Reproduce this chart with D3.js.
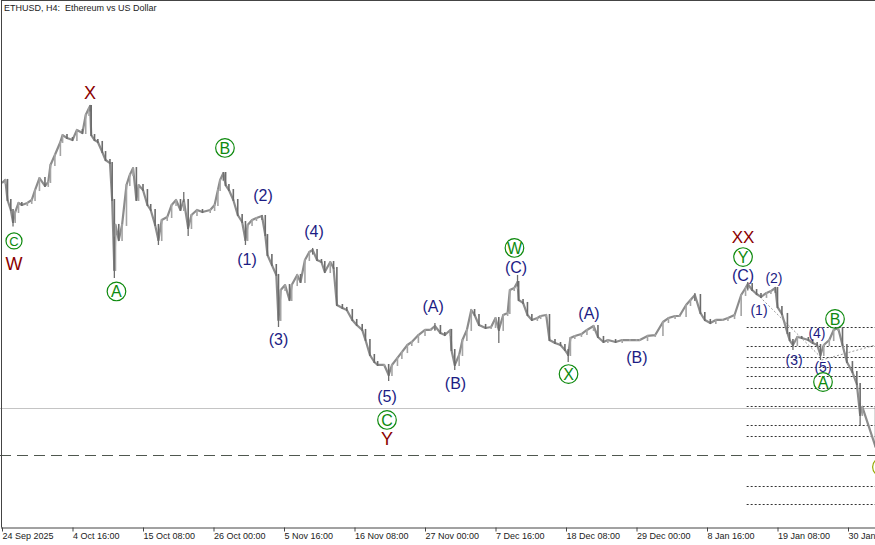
<!DOCTYPE html>
<html><head><meta charset="utf-8">
<script src="https://cdn.jsdelivr.net/npm/d3@7/dist/d3.min.js"></script>
<style>body{margin:0;background:#fff;} svg{display:block;}</style>
</head><body><svg id="c" width="875" height="545"></svg>
<script>
// ---- data (H4 bar index since 24 Sep 2025 00:00 UTC, price in USD) ----
const barIdx = [0,3,5,8,10,12,15,18,23,27,30,34,39,42,44,48,53,55,59,64,68,73,76,79,80,81,84,87,91,94,98,100,102,103,106,109,113,116,119,122,124,128,132,135,139,142,145,150,154,158,162,165,169,172,177,182,189,193,196,198,201,203,206,210,214,218,221,223,227,231,236,239,241,245,249,251,253,257,261,263,268,271,275,279,282,286,290,293,298,301,304,309,313,318,322,327,330,334,338,341,347,351,354,359,363,368,372,378,384,389,393,398,402,407,408,411,415,418,422,426,429,433,439,444,448,451,455,459,461,465,468,469,473,477,481,486,489,494,497,502,507,511,514,516,520,526,531,537,541,546,550,557,563,570,576,579,586,593,600,605,611,615,621,625,629,634,638,643,648,654,659,665,671,675,677,681,685,689,694,698,702,704,708,713,715,718,722,726,732,736,740,743,746,751,755,759,763,767,772,776,779,781,793];
const closePrice = [4140,4164,4007,3929,3835,3913,3984,3968,3984,4007,4085,4179,4117,4148,4281,4359,4461,4515,4492,4476,4555,4531,4672,4727,4742,4515,4476,4461,4382,4320,4296,4007,3460,3812,3694,3812,4124,4203,4257,4007,4124,4085,3968,3929,3812,3694,3851,3874,3968,4007,3929,4007,3788,3890,3929,3913,3929,3968,4085,4163,4218,4124,4085,4007,3890,3835,3694,3812,3851,3866,3882,3733,3577,3499,3421,3069,3303,3342,3225,3342,3421,3366,3538,3600,3616,3538,3522,3444,3522,3475,3186,3163,3147,3069,3030,2991,2912,2795,2740,2717,2717,2639,2717,2772,2818,2873,2897,2951,2991,2991,3022,2967,2951,2991,2834,2717,2795,2912,2991,3147,3108,3030,3006,3014,3084,2991,3108,3124,3303,3319,3366,3225,3202,3108,3069,3084,3100,3108,2912,2889,2873,2834,2795,2928,2944,2959,2991,3022,2936,2897,2912,2897,2912,2912,2912,2912,2944,2951,3053,3084,3100,3100,3186,3225,3264,3124,3069,3045,3069,3069,3084,3108,3264,3319,3350,3303,3272,3249,3280,3295,3319,3170,3116,2967,2912,2873,2936,2928,2912,2889,2873,2795,2873,2912,2991,3006,2873,2740,2662,2568,2326,2389,2076];
const wickIdx  = [10,80,102,142,165,169,201,221,236,251,282,351,393,411,451,468,514,629,677,702,718,743,779];
const wickLow  = [3800,4700,3397,3655,3990,3726,4160,3655,3850,3014,3580,2592,2990,2678,2889,3330,2740,3220,3300,3280,2834,2756,2248];
const wickHigh = [3870,4750,3720,3720,4070,3820,4226,3720,3890,3120,3632,2660,3045,2740,3010,3421,2830,3280,3366,3327,2900,2830,2420];

const tickIdx    = [0,64,128,192,256,320,384,448,512,576,640,704,768];
const tickLabels = ["24 Sep 2025","4 Oct 16:00","15 Oct 08:00","26 Oct 00:00","5 Nov 16:00","16 Nov 08:00","27 Nov 00:00","7 Dec 16:00","18 Dec 08:00","29 Dec 00:00","8 Jan 16:00","19 Jan 08:00","30 Jan 00:00"];

const fibLevels   = [3014,2865,2779,2701,2631,2537,2396,2248,2162,1771,1630];
const fibStartIdx = 676;
const bidPrice    = 2381;
const dashedPrice = 2013;
const channelStartIdx = [688,744];
const channelStartPx  = [3249,2756];
const channelEndIdx   = [744,793];
const channelEndPx    = [2772,2873];

// wave labels: p = navy parenthesised, ps = small navy, r = red, g = green circle, gs = small green circle, o = olive circle, rp = faint red
const labelText = ["C","W","X","A","B","(1)","(2)","(3)","(4)","(5)","C","Y","(A)","(B)","W","(C)","X","(A)","(B)","XX","Y","(C)","(1)","(2)","(3)","(4)","(5)","A","B","C","Y"];
const labelType = ["gs","r","r","g","g","p","p","p","p","p","g","r","p","p","g","p","g","p","p","r","g","p","ps","ps","ps","ps","ps","g","g","o","rp"];
const labelIdx  = [10.9,10.9,79.9,103.9,202.4,222.4,236.9,251,283.2,349.5,349.5,349.5,391.3,411.7,465.2,466.6,514.3,532.9,576.4,672.7,672.7,672.7,687.2,700.8,719,739.8,745.3,745.3,756.2,798.8,796.5];
const labelPx   = [3687,3507,4844,3292,4414,3538,4046,2920,3757,2467,2287,2138,3178,2576,3632,3483,2646,3123,2772,3710,3561,3413,3147,3397,2756,2967,2701,2584,3077,1919,1606];

// ---- scales ----
const H4 = 4*3600*1000;
const t0 = Date.UTC(2025,8,24,0,0);
const toDate = i => new Date(t0 + i*H4);
const W = 875, H = 545, axisY = 527.5;
const x = d3.scaleUtc().domain([toDate(0), toDate(792.5)]).range([2, 875]);
const y = d3.scaleLinear().domain([1450, 5571]).range([527, 0]);

const svg = d3.select("#c");
const font = "'Liberation Sans', Arial, sans-serif";

// horizontal reference lines
svg.append("line").attr("x1",0).attr("x2",W).attr("y1",Math.round(y(bidPrice))+0.5).attr("y2",Math.round(y(bidPrice))+0.5)
  .attr("stroke","#c4c4c4").attr("stroke-width",1);
svg.append("line").attr("x1",0).attr("x2",W).attr("y1",Math.round(y(dashedPrice))+0.5).attr("y2",Math.round(y(dashedPrice))+0.5)
  .attr("stroke","#4f574f").attr("stroke-width",1).attr("stroke-dasharray","11,6");
svg.append("g").selectAll("line").data(fibLevels).join("line")
  .attr("x1", x(toDate(fibStartIdx))).attr("x2", W)
  .attr("y1", d=>Math.round(y(d))+0.5).attr("y2", d=>Math.round(y(d))+0.5)
  .attr("stroke","#333").attr("stroke-width",1).attr("stroke-dasharray","2,2");
// channel dotted lines
svg.append("g").selectAll("line").data(channelStartIdx).join("line")
  .attr("x1",(d,i)=>x(toDate(d))).attr("y1",(d,i)=>y(channelStartPx[i]))
  .attr("x2",(d,i)=>x(toDate(channelEndIdx[i]))).attr("y2",(d,i)=>y(channelEndPx[i]))
  .attr("stroke","#9a9a9a").attr("stroke-width",1).attr("stroke-dasharray","2,2");

// price
const pts = barIdx.map((b,i)=>({d:toDate(b), v:closePrice[i]}));
svg.append("path").datum(pts)
  .attr("d", d3.line().x(d=>x(d.d)).y(d=>y(d.v)))
  .attr("fill","none").attr("stroke","#8c8c8c").attr("stroke-width",2.2).attr("stroke-linejoin","round");
const segs = d3.pairs(pts);
svg.append("g").selectAll("line").data(segs).join("line")
  .attr("x1",d=>x(d[1].d)).attr("x2",d=>x(d[1].d))
  .attr("y1",d=>y(Math.max(d[0].v,d[1].v))-1).attr("y2",d=>y(Math.min(d[0].v,d[1].v))+1)
  .attr("stroke",d=>d[1].v>=d[0].v ? "#a4a4a4" : "#6c6c6c").attr("stroke-width",1.6);
svg.append("g").selectAll("line").data(wickIdx).join("line")
  .attr("x1",d=>x(toDate(d))).attr("x2",d=>x(toDate(d)))
  .attr("y1",(d,i)=>y(wickLow[i])).attr("y2",(d,i)=>y(wickHigh[i]))
  .attr("stroke","#6e6e6e").attr("stroke-width",1.3);

// wave labels
const lab = svg.append("g");
labelText.forEach((t,i)=>{
  const cx = x(toDate(labelIdx[i])), cy = y(labelPx[i]), k = labelType[i];
  if (k==="g"||k==="gs"||k==="o"){
    const col = k==="o" ? "#93a800" : "#0e8a0e";
    const r = k==="gs" ? 8 : 9.3;
    lab.append("circle").attr("cx",cx).attr("cy",cy).attr("r",r).attr("fill","none").attr("stroke",col).attr("stroke-width",1.2);
    lab.append("text").attr("x",cx).attr("y",cy+0.5).attr("text-anchor","middle").attr("dominant-baseline","central")
      .attr("font-family",font).attr("font-size",k==="gs"?13:16).attr("fill",col).text(t);
  } else {
    const col = k==="r" ? "#8b0000" : (k==="rp" ? "#d88a9a" : "#1c1c84");
    const fs = k==="r" ? (t==="XX"?17:18) : (k==="ps" ? 14 : (k==="rp"?14:16));
    lab.append("text").attr("x",cx).attr("y",cy).attr("text-anchor","middle").attr("dominant-baseline","central")
      .attr("font-family",font).attr("font-size",fs).attr("fill",col).text(t);
  }
});

// frame
svg.append("line").attr("x1",1.5).attr("x2",1.5).attr("y1",0).attr("y2",axisY).attr("stroke","#444");
svg.append("line").attr("x1",1).attr("x2",W).attr("y1",0.5).attr("y2",0.5).attr("stroke","#444");

// x axis
const ax = svg.append("g").attr("transform",`translate(0,${axisY})`)
  .call(d3.axisBottom(x).tickValues(tickIdx.map(toDate)).tickFormat((d,i)=>tickLabels[i]).tickSize(4).tickSizeOuter(0));
ax.select(".domain").attr("stroke","#444").attr("d",`M1,0.5H${W}`);
ax.selectAll(".tick line").attr("stroke","#444");
ax.selectAll(".tick text").attr("text-anchor","start").attr("x",0).attr("dy","0.55em")
  .attr("font-family",font).attr("font-size",9).attr("fill","#222");

// title
svg.append("text").attr("x",4).attr("y",11).attr("font-family",font).attr("font-size",9).attr("fill","#222")
  .attr("xml:space","preserve").text("ETHUSD, H4:  Ethereum vs US Dollar");
</script></body></html>
